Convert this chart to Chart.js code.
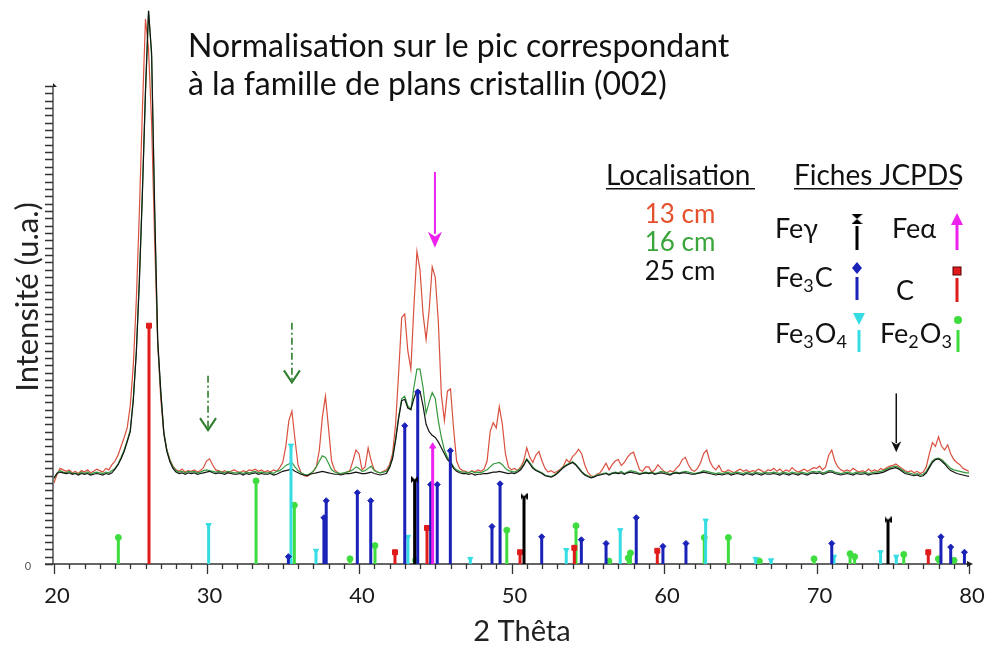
<!doctype html>
<html lang="fr">
<head>
<meta charset="utf-8">
<title>Diffractogrammes X - normalisation (002)</title>
<script src="https://cdn.jsdelivr.net/npm/chart.js@4"></script>
<style>
  html, body { margin: 0; padding: 0; background: #fff; }
</style>
</head>
<body>
<canvas id="chart" width="992" height="646"></canvas>
<script>
// 2 theta scan points
const theta = [
20,20.2,20.4,20.6,20.8,21,21.2,21.4,21.6,21.8,
22,22.2,22.4,22.6,22.8,23,23.2,23.4,23.6,23.8,
24,24.2,24.4,24.6,24.8,25,25.2,25.4,25.6,25.8,
26,26.2,26.4,26.6,26.8,27,27.2,27.4,27.6,27.8,
28,28.2,28.4,28.6,28.8,29,29.2,29.4,29.6,29.8,
30,30.2,30.4,30.6,30.8,31,31.2,31.4,31.6,31.8,
32,32.2,32.4,32.6,32.8,33,33.2,33.4,33.6,33.8,
34,34.2,34.4,34.6,34.8,35,35.2,35.4,35.6,35.8,
36,36.2,36.4,36.6,36.8,37,37.2,37.4,37.6,37.8,
38,38.2,38.4,38.6,38.8,39,39.2,39.4,39.6,39.8,
40,40.2,40.4,40.6,40.8,41,41.2,41.4,41.6,41.8,
42,42.2,42.4,42.6,42.8,43,43.2,43.4,43.6,43.8,
44,44.2,44.4,44.6,44.8,45,45.2,45.4,45.6,45.8,
46,46.2,46.4,46.6,46.8,47,47.2,47.4,47.6,47.8,
48,48.2,48.4,48.6,48.8,49,49.2,49.4,49.6,49.8,
50,50.2,50.4,50.6,50.8,51,51.2,51.4,51.6,51.8,
52,52.2,52.4,52.6,52.8,53,53.2,53.4,53.6,53.8,
54,54.2,54.4,54.6,54.8,55,55.2,55.4,55.6,55.8,
56,56.2,56.4,56.6,56.8,57,57.2,57.4,57.6,57.8,
58,58.2,58.4,58.6,58.8,59,59.2,59.4,59.6,59.8,
60,60.2,60.4,60.6,60.8,61,61.2,61.4,61.6,61.8,
62,62.2,62.4,62.6,62.8,63,63.2,63.4,63.6,63.8,
64,64.2,64.4,64.6,64.8,65,65.2,65.4,65.6,65.8,
66,66.2,66.4,66.6,66.8,67,67.2,67.4,67.6,67.8,
68,68.2,68.4,68.6,68.8,69,69.2,69.4,69.6,69.8,
70,70.2,70.4,70.6,70.8,71,71.2,71.4,71.6,71.8,
72,72.2,72.4,72.6,72.8,73,73.2,73.4,73.6,73.8,
74,74.2,74.4,74.6,74.8,75,75.2,75.4,75.6,75.8,
76,76.2,76.4,76.6,76.8,77,77.2,77.4,77.6,77.8,
78,78.2,78.4,78.6,78.8,79,79.2,79.4,79.6,79.8,
80
];

// intensities (a.u.), 13 cm
const int13 = [
110,122,130,128,126,128,124,126,123,127,
125,128,124,126,129,127,125,130,128,135,
140,148,160,172,185,215,270,360,480,620,
741,700,600,440,300,225,178,155,142,133,
128,126,129,125,127,126,128,125,127,131,
140,143,135,128,127,125,127,124,126,128,
126,124,127,125,128,127,129,126,128,125,
127,125,128,126,131,138,160,195,208,170,
135,124,120,119,122,126,132,155,200,228,
185,140,128,124,122,123,125,127,140,155,
150,128,132,158,140,128,125,124,126,128,
135,150,190,260,335,340,290,265,350,425,
400,340,305,345,404,390,330,230,195,235,
238,185,140,130,127,126,124,127,125,128,
126,129,140,180,192,185,214,190,150,132,
128,130,127,132,140,158,145,138,148,153,
140,130,125,127,124,126,129,133,142,138,
146,150,156,150,135,125,120,119,122,124,
130,137,128,135,140,142,134,138,145,150,
152,140,128,126,132,132,125,128,135,130,
126,124,127,125,130,134,142,145,135,128,
126,130,138,150,155,140,132,128,134,126,
125,128,126,124,127,129,126,128,125,127,
126,129,127,124,128,127,130,126,129,125,
128,126,131,127,125,127,129,126,128,131,
130,133,128,132,148,155,140,132,128,126,
128,126,130,127,125,127,125,129,126,128,
126,130,128,131,133,134,136,133,130,127,
125,127,124,126,123,125,132,150,165,160,
173,160,155,162,150,142,138,135,130,128,
126
];

// 16 cm
const int16 = [
116,124,127,125,124,126,123,124,122,125,
123,125,122,124,125,124,123,125,124,127,
130,136,145,155,168,182,225,290,388,510,
640,752,690,480,300,235,180,155,141,132,
127,125,126,124,126,125,126,124,125,127,
128,127,126,125,126,125,124,126,125,124,
124,125,123,125,124,125,126,124,125,124,
124,125,123,126,127,130,134,136,138,132,
127,124,122,121,123,126,132,140,147,145,
137,128,125,124,123,124,125,126,128,132,
130,126,127,130,133,127,125,124,125,126,
132,145,170,200,225,228,215,210,240,265,
265,240,205,220,233,225,195,172,155,145,
140,132,128,126,125,125,124,126,124,125,
124,126,128,132,136,137,138,135,130,127,
126,125,127,130,136,143,138,132,128,126,
124,121,120,119,121,124,128,132,135,137,
139,136,131,126,122,120,118,119,121,122,
123,124,122,124,125,124,126,123,125,127,
126,125,123,124,125,124,125,123,124,126,
125,124,122,124,125,124,125,126,125,124,
123,124,125,127,126,125,124,123,124,123,
124,125,123,124,125,124,123,125,124,123,
125,124,123,125,124,124,125,124,123,125,
124,123,125,124,123,125,124,123,125,126,
125,126,124,125,127,127,125,124,123,124,
125,124,123,125,124,124,125,123,124,125,
125,126,127,129,131,132,133,131,128,125,
124,123,122,123,121,122,126,133,140,143,
144,142,138,134,130,128,127,126,125,124,
124
];

// 25 cm
const int25 = [
117,123,125,124,123,124,122,123,121,123,
122,123,121,122,123,122,121,123,122,124,
129,135,143,153,166,180,222,288,385,505,
645,752,695,485,305,235,178,153,139,130,
125,123,124,122,124,123,124,122,123,124,
125,126,124,123,124,123,122,124,123,122,
122,123,121,123,122,123,124,122,123,122,
122,123,121,122,124,126,127,128,129,126,
124,122,121,120,122,123,124,125,126,125,
124,123,122,122,121,122,123,123,124,125,
124,123,123,124,125,123,122,121,122,123,
131,143,168,198,222,224,212,210,225,236,
235,215,190,180,175,172,166,158,150,142,
138,130,126,124,123,123,122,123,121,122,
122,123,123,124,125,125,126,125,124,123,
124,123,125,128,134,142,136,130,127,125,
123,120,119,118,120,123,127,131,134,136,
138,135,130,125,121,119,117,118,120,121,
122,123,121,123,124,123,124,122,124,125,
124,123,122,123,124,123,124,122,123,124,
123,122,121,123,124,123,124,124,123,122,
122,123,124,125,124,123,122,121,122,121,
122,123,121,122,123,122,121,123,122,121,
123,122,121,123,122,122,123,122,121,123,
122,121,123,122,121,123,122,121,123,124,
123,124,122,123,125,125,123,122,121,122,
123,122,121,123,122,122,123,121,122,123,
123,124,125,127,129,130,131,129,126,123,
122,121,120,121,119,120,124,131,138,142,
143,140,136,131,127,125,123,122,121,120,
119
];

// JCPDS reference lines (2 theta, relative intensity)
const feGammaTheta = [43.65, 50.82, 74.69];
const feGammaInt = [115, 92, 60];
const feAlphaTheta = [44.83];
const feAlphaInt = [160];
const fe3cTheta = [35.37, 37.7, 37.85, 39.89, 40.77, 43.0, 43.85, 44.7, 45.13, 45.99, 48.72, 49.25, 51.98, 54.58, 56.2, 58.18, 59.93, 61.44, 71.0, 78.16, 78.8, 79.7];
const fe3cInt = [10, 63, 86, 97, 86, 188, 234, 108, 108, 154, 51, 109, 37, 33, 28, 63, 24, 28, 28, 37, 23, 16];
const cTheta = [26.23, 42.36, 44.46, 50.56, 54.12, 59.56, 77.33];
const cInt = [324, 16, 49, 16, 22, 18, 16];
const fe3o4Theta = [30.14, 35.54, 37.18, 43.21, 47.3, 53.59, 57.13, 62.73, 66.01, 67.02, 71.15, 74.2, 75.23];
const fe3o4Int = [53, 161, 18, 37, 7, 19, 46, 59, 7, 5, 10, 16, 10];
const fe2o3Theta = [24.22, 33.25, 35.76, 39.41, 41.05, 43.71, 49.69, 54.23, 56.39, 57.66, 57.8, 62.64, 64.22, 66.25, 69.84, 72.2, 72.5, 75.72, 77.99, 79.02];
const fe2o3Int = [36, 113, 80, 7, 25, 5, 46, 52, 4, 8, 15, 36, 36, 4, 7, 14, 10, 13, 7, 5];

const xTicks = [20, 30, 40, 50, 60, 70, 80];
const noteLines = ['Normalisation sur le pic correspondant', 'à la famille de plans cristallin (002)'];
const locLabels = ['13 cm', '16 cm', '25 cm'];

const FONT = 'Lato, "Noto Sans", sans-serif';
const axisTop = 650, yTickStep = 10;
const col = {
  r13: '#d9503f', g16: '#34993c', k25: '#151515',
  feG: '#000000', feA: '#ee22ee', fe3c: '#1a22b8', c: '#e01b1b', fe3o4: '#35dde3', fe2o3: '#3fdc3f'
};
const locColors = ['#e5502d', '#3aa53a', '#111111'];

function hourglass(w, h, color) {
  const c = document.createElement('canvas');
  c.width = w; c.height = h;
  const g = c.getContext('2d');
  g.fillStyle = color;
  g.beginPath(); g.moveTo(0, 0); g.lineTo(w, 0); g.lineTo(w / 2, h / 2); g.closePath(); g.fill();
  g.beginPath(); g.moveTo(0, h); g.lineTo(w, h); g.lineTo(w / 2, h / 2); g.closePath(); g.fill();
  return c;
}

const pts = (ys) => theta.map((t, i) => ({ x: t, y: ys[i] }));
const sticks = (th, iv) => th.flatMap((t, i) => [{ x: t, y: 0 }, { x: t, y: iv[i] }, { x: t, y: null }]);

function trace(label, ys, color, order) {
  return { label, data: pts(ys), borderColor: color, borderWidth: 1.2, pointRadius: 0, tension: 0, order };
}
function stickSet(label, th, iv, color, style, radius, rot) {
  return {
    label, data: sticks(th, iv), borderColor: color, borderWidth: 3, borderCapStyle: 'butt',
    spanGaps: false, tension: 0, order: 0,
    pointStyle: style, pointRotation: rot || 0,
    pointRadius: c => c.dataIndex % 3 === 1 ? radius : 0,
    pointBackgroundColor: color, pointBorderColor: color, pointBorderWidth: 1
  };
}

function drawArrow(ctx, x, yA, yB, o) {
  ctx.save();
  ctx.strokeStyle = o.color; ctx.fillStyle = o.color; ctx.lineWidth = o.width;
  ctx.setLineDash(o.dash || []);
  ctx.beginPath(); ctx.moveTo(x, yA); ctx.lineTo(x, o.open ? yB - 1 : yB - o.head + 2); ctx.stroke();
  ctx.setLineDash([]);
  ctx.beginPath();
  ctx.moveTo(x - o.half, yB - o.head); ctx.lineTo(x, yB); ctx.lineTo(x + o.half, yB - o.head);
  if (o.open) { ctx.lineWidth = 2; ctx.stroke(); } else { ctx.lineTo(x, yB - o.head * 0.7); ctx.closePath(); ctx.fill(); }
  ctx.restore();
}

function chem(ctx, parts, x, y, size) {
  let cx = x;
  for (const [s, sub] of parts) {
    ctx.font = (sub ? Math.round(size * 0.66) : size) + 'px ' + FONT;
    ctx.fillText(s, cx, y + (sub ? Math.round(size * 0.2) : 0));
    cx += ctx.measureText(s).width + (sub ? 1 : 0);
  }
}

const decor = {
  id: 'decor',
  beforeDatasetsDraw(chart) {
    const { ctx, chartArea: a, scales: { x, y } } = chart;
    const y0 = y.getPixelForValue(0), yT = y.getPixelForValue(axisTop);
    const xl = a.left - 1, xr = x.getPixelForValue(80);
    ctx.save();
    ctx.strokeStyle = '#333'; ctx.lineWidth = 1.3;
    ctx.beginPath();
    ctx.moveTo(xl - 8, y0); ctx.lineTo(xr + 2, y0);
    ctx.moveTo(xl, y0); ctx.lineTo(xl, yT);
    for (let v = 0; v <= axisTop; v += yTickStep) {
      const py = Math.round(y.getPixelForValue(v)) + 0.5;
      ctx.moveTo(xl - 8, py); ctx.lineTo(xl, py);
    }
    for (let t = 20; t <= 80; t++) {
      const px = Math.round(x.getPixelForValue(t)) + 0.5;
      ctx.moveTo(px, y0); ctx.lineTo(px, y0 + (t % 10 === 0 ? 10 : 5));
    }
    ctx.stroke();
    ctx.fillStyle = '#222';
    ctx.beginPath(); ctx.moveTo(xl, yT - 3); ctx.lineTo(xl + 4, yT + 1); ctx.lineTo(xl, yT + 1); ctx.closePath(); ctx.fill();
    ctx.beginPath(); ctx.moveTo(xr + 4, y0); ctx.lineTo(xr - 2, y0 - 3); ctx.lineTo(xr - 2, y0 + 3); ctx.closePath(); ctx.fill();
    ctx.restore();
  },
  afterDraw(chart) {
    const { ctx, scales: { x, y } } = chart;
    const y0 = y.getPixelForValue(0);
    ctx.save();
    ctx.textBaseline = 'alphabetic';
    // tick labels
    ctx.fillStyle = '#1a1a1a';
    ctx.font = '22px ' + FONT;
    ctx.textAlign = 'center';
    xTicks.forEach(t => ctx.fillText(String(t), x.getPixelForValue(t) + 3, 603));
    ctx.font = '11px ' + FONT; ctx.fillStyle = '#555';
    ctx.fillText('0', 28, y0 + 6);
    // axis titles
    ctx.fillStyle = '#222';
    ctx.font = '29px ' + FONT;
    ctx.fillText('2 Thêta', 522, 641);
    ctx.save();
    ctx.translate(38, 297); ctx.rotate(-Math.PI / 2);
    ctx.font = '31px ' + FONT;
    ctx.fillText('Intensité (u.a.)', 0, 0);
    ctx.restore();
    // note
    ctx.textAlign = 'left'; ctx.fillStyle = '#111';
    ctx.font = '32px ' + FONT;
    ctx.fillText(noteLines[0], 188, 57);
    ctx.fillText(noteLines[1], 188, 95);
    // legend headers
    ctx.font = '28px ' + FONT;
    ctx.fillText('Localisation', 606, 185);
    ctx.fillText('Fiches JCPDS', 794, 185);
    ctx.fillRect(606, 188, 149, 1.5);
    ctx.fillRect(794, 188, 164, 1.5);
    ctx.textAlign = 'center';
    ctx.font = '26px ' + FONT;
    locLabels.forEach((s, i) => {
      ctx.fillStyle = locColors[i]; ctx.fillText(s, 680, [223, 251, 280][i]);
    });
    // JCPDS legend
    ctx.textAlign = 'left'; ctx.fillStyle = '#111';
    chem(ctx, [['Feγ', 0]], 775, 238, 27);
    chem(ctx, [['Feα', 0]], 892, 238, 27);
    chem(ctx, [['Fe', 0], ['3', 1], ['C', 0]], 775, 287, 27);
    chem(ctx, [['C', 0]], 896, 300, 27);
    chem(ctx, [['Fe', 0], ['3', 1], ['O', 0], ['4', 1]], 775, 343, 27);
    chem(ctx, [['Fe', 0], ['2', 1], ['O', 0], ['3', 1]], 880, 343, 27);
    const leg = (cx, top, bottom, color) => { ctx.fillStyle = color; ctx.fillRect(cx - 1.5, top, 3, bottom - top); };
    leg(857, 226, 250, col.feG); ctx.drawImage(hourglass(11, 10, col.feG), 851.5, 214);
    leg(957, 224, 250, col.feA);
    ctx.beginPath(); ctx.moveTo(957, 213); ctx.lineTo(963, 225); ctx.lineTo(951, 225); ctx.closePath(); ctx.fill();
    leg(857, 277, 300, col.fe3c);
    ctx.beginPath(); ctx.moveTo(857, 262); ctx.lineTo(862, 268); ctx.lineTo(857, 274); ctx.lineTo(852, 268); ctx.closePath(); ctx.fill();
    leg(957, 278, 302, col.c);
    ctx.fillStyle = '#5a0000'; ctx.fillRect(952.5, 266.5, 9, 9);
    ctx.fillStyle = col.c; ctx.fillRect(953.5, 267.5, 7, 7);
    leg(859, 330, 352, col.fe3o4);
    ctx.beginPath(); ctx.moveTo(853, 313); ctx.lineTo(865, 313); ctx.lineTo(859, 325); ctx.closePath(); ctx.fill();
    leg(958, 330, 352, col.fe2o3);
    ctx.beginPath(); ctx.arc(958, 320, 4, 0, Math.PI * 2); ctx.fill();
    // arrows
    const px = t => x.getPixelForValue(t), py = v => y.getPixelForValue(v);
    const dashGreen = { color: '#2d7d2d', width: 1.6, dash: [7, 3, 2, 3], open: true, head: 12, half: 8 };
    drawArrow(ctx, px(30.1), py(256), py(182), dashGreen);
    drawArrow(ctx, px(35.6), py(328), py(247), dashGreen);
    drawArrow(ctx, px(44.98), py(533), py(430), { color: '#ee22ee', width: 2, head: 16, half: 7 });
    drawArrow(ctx, px(75.23), py(232), py(152), { color: '#111', width: 1.5, head: 11, half: 5 });
    ctx.restore();
  }
};

new Chart(document.getElementById('chart'), {
  type: 'line',
  data: {
    datasets: [
      stickSet('Feγ', feGammaTheta, feGammaInt, col.feG, hourglass(7, 7, col.feG), 3, 90),
      stickSet('Feα', feAlphaTheta, feAlphaInt, col.feA, 'triangle', 3.5),
      stickSet('Fe3C', fe3cTheta, fe3cInt, col.fe3c, 'rectRot', 3),
      stickSet('C', cTheta, cInt, col.c, 'rect', 3.5),
      stickSet('Fe3O4', fe3o4Theta, fe3o4Int, col.fe3o4, 'triangle', 3, 180),
      stickSet('Fe2O3', fe2o3Theta, fe2o3Int, col.fe2o3, 'circle', 3),
      trace('25 cm', int25, col.k25, 1),
      trace('16 cm', int16, col.g16, 2),
      trace('13 cm', int13, col.r13, 3)
    ]
  },
  options: {
    responsive: false,
    animation: false,
    events: [],
    layout: { padding: { left: 54, right: 23, top: 5, bottom: 82 } },
    scales: {
      x: { type: 'linear', min: 20, max: 80, offset: false, display: false },
      y: { type: 'linear', min: 0, max: 760, display: false }
    },
    plugins: { legend: { display: false }, tooltip: { enabled: false } }
  },
  plugins: [decor]
});
</script>
</body>
</html>
